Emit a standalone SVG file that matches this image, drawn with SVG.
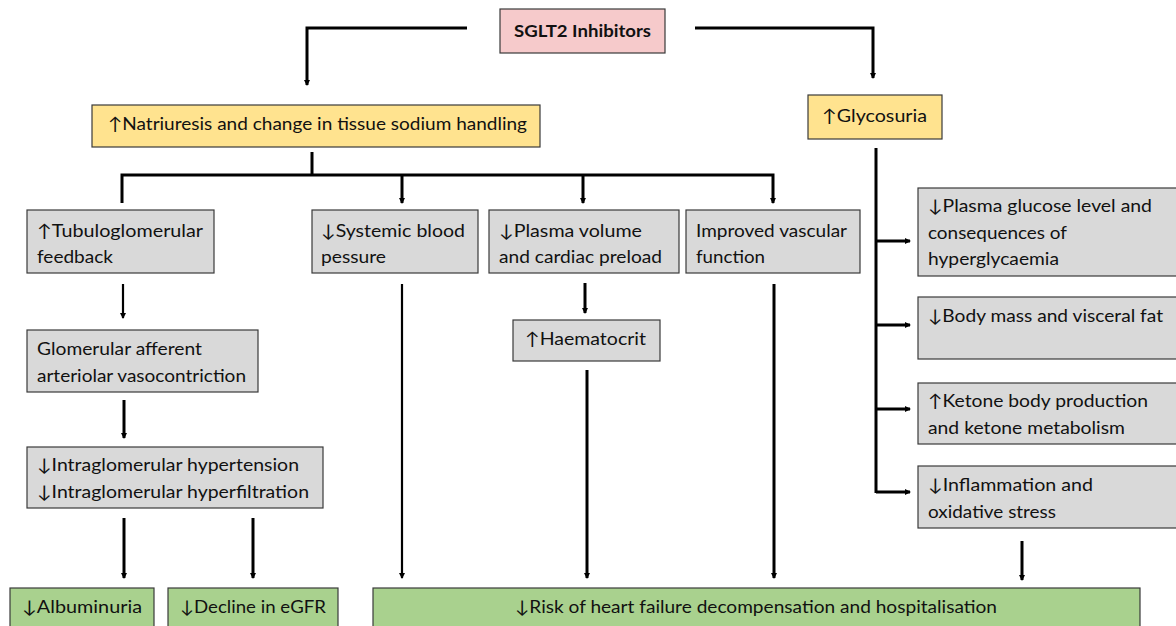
<svg xmlns="http://www.w3.org/2000/svg" width="1176" height="626" viewBox="0 0 1176 626">
<style>
.bx{stroke:#3a3a3a;stroke-width:1.2}
.pink{fill:#F6CACB}
.yel{fill:#FFE38F}
.gry{fill:#D9D9D9}
.grn{fill:#A9D18E}
text{font-family:Lato,"Open Sans","DejaVu Sans",sans-serif;font-size:17.5px;fill:#111}
.c{stroke:#000;fill:none;stroke-width:3}
.t{stroke:#000;fill:none;stroke-width:2.2}
</style>
<defs>
<marker id="ah" viewBox="0 0 6 6" refX="5" refY="3" markerWidth="6" markerHeight="6" markerUnits="userSpaceOnUse" orient="auto">
<path d="M0,0 L6,3 L0,6 z" fill="#000"/>
</marker>
</defs>
<rect width="1176" height="626" fill="#fff"/>
<g id="connectors">
<polyline class="c" points="467,28 307,28 307,85" marker-end="url(#ah)"/>
<polyline class="c" points="695,28 873,28 873,78" marker-end="url(#ah)"/>
<line class="c" x1="312" y1="152" x2="312" y2="175"/>
<polyline class="c" points="122,203 122,175 773,175 773,203" marker-end="url(#ah)"/>
<line class="c" x1="402" y1="175" x2="402" y2="203" marker-end="url(#ah)"/>
<line class="c" x1="583" y1="175" x2="583" y2="203" marker-end="url(#ah)"/>
<line class="t" x1="123" y1="284" x2="123" y2="318" marker-end="url(#ah)"/>
<line class="c" x1="124" y1="400" x2="124" y2="438" marker-end="url(#ah)"/>
<line class="c" x1="124" y1="518" x2="124" y2="578" marker-end="url(#ah)"/>
<line class="c" x1="253" y1="518" x2="253" y2="578" marker-end="url(#ah)"/>
<line class="t" x1="402" y1="284" x2="402" y2="578" marker-end="url(#ah)"/>
<line class="c" x1="585" y1="283" x2="585" y2="313" marker-end="url(#ah)"/>
<line class="c" x1="587" y1="370" x2="587" y2="578" marker-end="url(#ah)"/>
<line class="c" x1="774" y1="284" x2="774" y2="578" marker-end="url(#ah)"/>
<line class="c" x1="876" y1="148" x2="876" y2="493"/>
<line class="c" x1="876" y1="241" x2="910" y2="241" marker-end="url(#ah)"/>
<line class="c" x1="876" y1="325" x2="910" y2="325" marker-end="url(#ah)"/>
<line class="c" x1="876" y1="409" x2="910" y2="409" marker-end="url(#ah)"/>
<line class="c" x1="876" y1="492" x2="910" y2="492" marker-end="url(#ah)"/>
<line class="c" x1="1022" y1="541" x2="1022" y2="580" marker-end="url(#ah)"/>
</g>
<g id="sglt2"><rect class="bx pink" x="500" y="9" width="165" height="44"/><text x="514" y="37" font-weight="bold" textLength="137" lengthAdjust="spacingAndGlyphs">SGLT2 Inhibitors</text></g>
<g id="natriuresis"><rect class="bx yel" x="92" y="105" width="448" height="42"/><text x="108" y="130" textLength="419" lengthAdjust="spacingAndGlyphs">↑Natriuresis and change in tissue sodium handling</text></g>
<g id="glycosuria"><rect class="bx yel" x="808" y="95" width="134" height="44"/><text x="822" y="122" textLength="105" lengthAdjust="spacingAndGlyphs">↑Glycosuria</text></g>
<g id="tubulo"><rect class="bx gry" x="27" y="210" width="187" height="63"/><text x="37" y="237" textLength="166" lengthAdjust="spacingAndGlyphs">↑Tubuloglomerular</text><text x="37" y="263" textLength="76" lengthAdjust="spacingAndGlyphs">feedback</text></g>
<g id="systemic"><rect class="bx gry" x="312" y="210" width="166" height="63"/><text x="321" y="237" textLength="144" lengthAdjust="spacingAndGlyphs">↓Systemic blood</text><text x="321" y="263" textLength="65" lengthAdjust="spacingAndGlyphs">pessure</text></g>
<g id="plasma"><rect class="bx gry" x="489" y="210" width="190" height="63"/><text x="499" y="237" textLength="143" lengthAdjust="spacingAndGlyphs">↓Plasma volume</text><text x="499" y="263" textLength="163" lengthAdjust="spacingAndGlyphs">and cardiac preload</text></g>
<g id="vascular"><rect class="bx gry" x="686" y="210" width="174" height="63"/><text x="696" y="237" textLength="151" lengthAdjust="spacingAndGlyphs">Improved vascular</text><text x="696" y="263" textLength="69" lengthAdjust="spacingAndGlyphs">function</text></g>
<g id="glomerular"><rect class="bx gry" x="27" y="330" width="231" height="62"/><text x="37" y="355" textLength="165" lengthAdjust="spacingAndGlyphs">Glomerular afferent</text><text x="37" y="382" textLength="209" lengthAdjust="spacingAndGlyphs">arteriolar vasocontriction</text></g>
<g id="intraglomerular"><rect class="bx gry" x="27" y="447" width="296" height="61"/><text x="37" y="471" textLength="262" lengthAdjust="spacingAndGlyphs">↓Intraglomerular hypertension</text><text x="37" y="498" textLength="272" lengthAdjust="spacingAndGlyphs">↓Intraglomerular hyperfiltration</text></g>
<g id="haematocrit"><rect class="bx gry" x="513" y="320" width="147" height="41"/><text x="525" y="345" textLength="121" lengthAdjust="spacingAndGlyphs">↑Haematocrit</text></g>
<g id="glucose"><rect class="bx gry" x="918" y="188" width="262" height="88"/><text x="928" y="212" textLength="224" lengthAdjust="spacingAndGlyphs">↓Plasma glucose level and</text><text x="928" y="239" textLength="139" lengthAdjust="spacingAndGlyphs">consequences of</text><text x="928" y="265" textLength="131" lengthAdjust="spacingAndGlyphs">hyperglycaemia</text></g>
<g id="bodymass"><rect class="bx gry" x="918" y="297" width="262" height="62"/><text x="928" y="322" textLength="235" lengthAdjust="spacingAndGlyphs">↓Body mass and visceral fat</text></g>
<g id="ketone"><rect class="bx gry" x="918" y="383" width="262" height="61"/><text x="928" y="407" textLength="220" lengthAdjust="spacingAndGlyphs">↑Ketone body production</text><text x="928" y="434" textLength="197" lengthAdjust="spacingAndGlyphs">and ketone metabolism</text></g>
<g id="inflammation"><rect class="bx gry" x="918" y="466" width="262" height="62"/><text x="928" y="491" textLength="165" lengthAdjust="spacingAndGlyphs">↓Inflammation and</text><text x="928" y="518" textLength="128" lengthAdjust="spacingAndGlyphs">oxidative stress</text></g>
<g id="albuminuria"><rect class="bx grn" x="10" y="588" width="144" height="42"/><text x="22" y="613" textLength="120" lengthAdjust="spacingAndGlyphs">↓Albuminuria</text></g>
<g id="egfr"><rect class="bx grn" x="168" y="588" width="170" height="42"/><text x="180" y="613" textLength="146" lengthAdjust="spacingAndGlyphs">↓Decline in eGFR</text></g>
<g id="heartfailure"><rect class="bx grn" x="373" y="588" width="767" height="42"/><text x="515" y="613" textLength="482" lengthAdjust="spacingAndGlyphs">↓Risk of heart failure decompensation and hospitalisation</text></g>
</svg>
